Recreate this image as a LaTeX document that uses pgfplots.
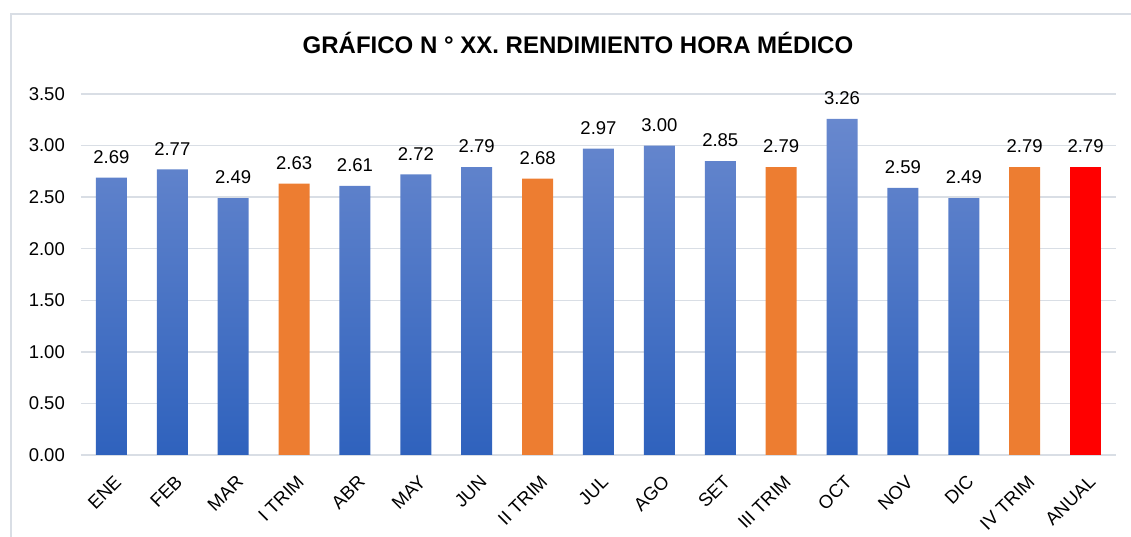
\documentclass[border=0pt]{standalone}
\usepackage{fontspec}
\setmainfont{Liberation Sans}
\usepackage{pgfplots}
\pgfplotsset{compat=1.18}
\definecolor{blueTop}{RGB}{104,136,206}
\definecolor{blueBot}{RGB}{47,98,189}
\definecolor{orangeB}{RGB}{237,125,49}
\definecolor{redB}{RGB}{255,0,0}
\definecolor{gridc}{RGB}{217,222,229}
\definecolor{framec}{RGB}{217,222,229}
\begin{document}
\begin{tikzpicture}[x=1pt,y=1pt]
\path[use as bounding box] (0,0) rectangle (1131,537);
\draw[framec, line width=2pt] (11,0) -- (11,523) -- (1131,523);
\node[anchor=base, font=\fontsize{24}{28}\selectfont\bfseries] at (578,483) {GRÁFICO N ° XX. RENDIMIENTO HORA MÉDICO};
\begin{axis}[
  at={(81pt,82pt)}, anchor=south west,
  scale only axis, width=1035pt, height=361pt,
  xmin=-0.5, xmax=16.5, ymin=0, ymax=3.5,
  ytick={0,0.5,1,1.5,2,2.5,3,3.5},
  xtick={0,...,16},
  xticklabels={ENE,FEB,MAR,I TRIM,ABR,MAY,JUN,II TRIM,JUL,AGO,SET,III TRIM,OCT,NOV,DIC,IV TRIM,ANUAL},
  axis line style={draw=none},
  major tick length=0pt,
  ymajorgrids, grid style={gridc, line width=1.5pt},
  /pgf/number format/assume math mode=true,
  yticklabel style={/pgf/number format/fixed, /pgf/number format/fixed zerofill, /pgf/number format/precision=2, font=\fontsize{18.5}{21}\selectfont, anchor=east, inner sep=0pt, xshift=-16pt},
  xticklabel style={font=\fontsize{18.5}{21}\selectfont, anchor=north east, inner sep=0pt, yshift=-19pt, xshift=2pt, rotate=45},
  ybar, bar width=31pt,
  nodes near coords,
  nodes near coords style={/pgf/number format/fixed, /pgf/number format/fixed zerofill, /pgf/number format/precision=2, font=\fontsize{18.5}{21}\selectfont, anchor=south, inner sep=0pt, yshift=14pt, text=black},
  clip=false,
]
\addplot[ybar, bar shift=0pt, draw=none, top color=blueTop, bottom color=blueBot] coordinates {
(0,2.69) (1,2.77) (2,2.49) (4,2.61) (5,2.72) (6,2.79) (8,2.97) (9,3.00) (10,2.85) (12,3.26) (13,2.59) (14,2.49)};
\addplot[ybar, bar shift=0pt, draw=none, fill=orangeB] coordinates {
(3,2.63) (7,2.68) (11,2.79) (15,2.79)};
\addplot[ybar, bar shift=0pt, draw=none, fill=redB] coordinates {
(16,2.79)};
\end{axis}
\end{tikzpicture}
\end{document}
